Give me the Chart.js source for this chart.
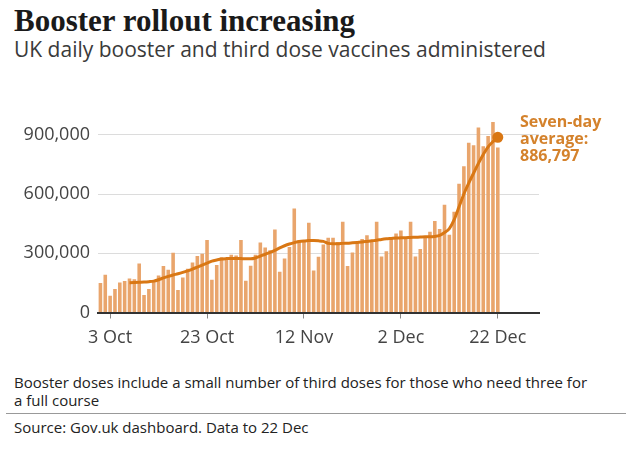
<!DOCTYPE html>
<html>
<head>
<meta charset="utf-8">
<script src="https://cdn.jsdelivr.net/npm/chart.js"></script>
<style>
  body { margin: 0; width: 640px; height: 452px; position: relative; background: #fff; overflow: hidden; font-family: 'Open Sans', sans-serif; color: #222; }
  #title { position: absolute; left: 14px; top: 3px; font: bold 31px 'Liberation Serif', serif; color: #1a1a1a; }
  #subtitle { position: absolute; left: 14px; top: 35px; font-size: 21px; color: #3a3a3a; }
  #wrap { position: absolute; left: 0; top: 0; width: 640px; height: 360px; }
  #note { position: absolute; left: 14px; top: 373px; width: 615px; font-size: 15px; line-height: 18px; }
  #rule { position: absolute; left: 6px; top: 413px; width: 620px; border-top: 1px solid #999; }
  #source { position: absolute; left: 14px; top: 417px; font-size: 15px; }
</style>
</head>
<body>
<div id="title">Booster rollout increasing</div>
<div id="subtitle">UK daily booster and third dose vaccines administered</div>
<div id="wrap"><canvas id="chart" width="640" height="360"></canvas></div>
<div id="note">Booster doses include a small number of third doses for those who need three for<br>a full course</div>
<div id="rule"></div>
<div id="source">Source: Gov.uk dashboard. Data to 22 Dec</div>
<script>
  // daily categories, 1 Oct to 30 Dec (axis runs a little past the data)
  const months = [['Oct', 31], ['Nov', 30], ['Dec', 30]];
  const days = [];
  months.forEach(([m, n]) => { for (let d = 1; d <= n; d++) days.push(d + ' ' + m); });

  const tickDays = ['3 Oct', '23 Oct', '12 Nov', '2 Dec', '22 Dec'];
  const yTicks = [0, 300000, 600000, 900000];

  // daily doses, 1 Oct - 22 Dec (thousands)
  const dailyK = [
    150, 191, 85, 119, 152, 159, 172, 168, 248, 88,
    119, 159, 187, 236, 217, 302, 114, 177, 222, 253,
    286, 298, 367, 166, 240, 280, 275, 292, 288, 367,
    161, 237, 293, 355, 329, 315, 420, 206, 273, 332,
    527, 366, 366, 455, 213, 282, 344, 378, 379, 357,
    459, 235, 304, 355, 372, 391, 360, 460, 283, 310,
    378, 400, 415, 380, 459, 284, 322, 385, 409, 463,
    423, 546, 394, 510, 652, 741, 859, 847, 937, 842,
    894, 965, 836
  ];

  // seven-day average, starts 7 Oct (thousands)
  const avgK = [
    null, null, null, null, null, null,
    151, 152, 153, 154, 156, 159, 166, 175, 183, 190,
    196, 203, 211, 220, 230, 240, 250, 260, 266, 271,
    273, 274, 274, 273, 272, 272, 276, 285, 295, 304,
    315, 327, 338, 347, 354, 359, 362, 364, 364, 363,
    360, 350, 348, 348, 350, 351, 353, 355, 357, 360,
    363, 366, 370, 373, 375, 377, 378, 379, 380, 381,
    382, 383, 383, 385, 390, 405, 425, 470, 535, 600,
    655, 705, 755, 800, 839, 865, 886.797
  ];

  const barColor = '#e9a56c';
  const lineColor = '#d97714';
  const last = avgK.length - 1;

  const calloutPlugin = {
    id: 'callout',
    afterDraw(chart) {
      const c = chart.ctx;
      c.save();
      c.fillStyle = '#d4822c';
      c.font = "bold 16px 'Open Sans'";
      c.textBaseline = 'alphabetic';
      c.fillText('Seven-day', 520, 127);
      c.fillText('average:', 520, 144);
      c.fillText('886,797', 520, 161);
      c.restore();
    }
  };

  const ctx = document.getElementById('chart').getContext('2d');
  new Chart(ctx, {
    type: 'bar',
    data: {
      labels: days,
      datasets: [
        {
          type: 'line',
          data: avgK.map(v => v === null ? null : v * 1000),
          borderColor: lineColor,
          backgroundColor: lineColor,
          borderWidth: 3,
          tension: 0.4,
          cubicInterpolationMode: 'monotone',
          pointRadius: c => c.dataIndex === last ? 4 : 0,
          pointHoverRadius: 0,
          order: 0
        },
        {
          data: dailyK.map(v => v * 1000),
          backgroundColor: barColor,
          barPercentage: 0.74,
          categoryPercentage: 1,
          order: 1
        }
      ]
    },
    options: {
      responsive: false,
      animation: false,
      layout: { padding: { top: 115, right: 101, left: 0, bottom: 0 } },
      plugins: { legend: { display: false }, tooltip: { enabled: false } },
      scales: {
        x: {
          afterFit: s => { s.height = 47.5; },
          afterBuildTicks: s => { s.ticks = s.ticks.filter(t => tickDays.includes(days[t.value])); },
          grid: { offset: false, drawOnChartArea: false, color: '#888', tickLength: 6 },
          border: { color: '#333', width: 2 },
          ticks: {
            autoSkip: false, maxRotation: 0, padding: 9,
            color: '#444', font: { size: 18, family: "'Open Sans'" },
            callback: function (v) { return days[v]; }
          }
        },
        y: {
          min: 0, max: 1000000,
          afterFit: s => { s.width = 98; },
          afterBuildTicks: s => { s.ticks = yTicks.map(v => ({ value: v })); },
          grid: { color: c => c.tick && c.tick.value === 0 ? 'rgba(0,0,0,0)' : '#dcdcdc', drawTicks: false, lineWidth: 1 },
          border: { display: false },
          ticks: {
            padding: 8, color: '#444', font: { size: 18, family: "'Open Sans'" },
            callback: v => v.toLocaleString('en-GB')
          }
        }
      }
    },
    plugins: [calloutPlugin]
  });
</script>
</body>
</html>
